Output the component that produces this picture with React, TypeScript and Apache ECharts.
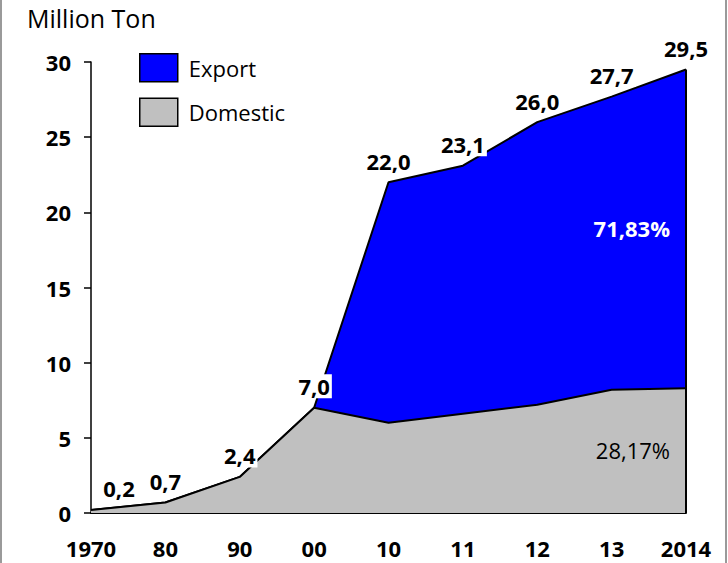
import React, { useEffect, useRef } from "react";
import * as echarts from "echarts";

const categories = ["1970", "80", "90", "00", "10", "11", "12", "13", "2014"];
const domestic = [0.2, 0.7, 2.4, 7.0, 6.0, 6.6, 7.2, 8.2, 8.3];
const exportVals = [0, 0, 0, 0, 16.0, 16.5, 18.8, 19.5, 21.2];
const totals = [0.2, 0.7, 2.4, 7.0, 22.0, 23.1, 26.0, 27.7, 29.5];
const totalLabels = ["0,2", "0,7", "2,4", "7,0", "22,0", "23,1", "26,0", "27,7", "29,5"];
const yTicks = [0, 5, 10, 15, 20, 25, 30];
const exportShare = "71,83%";
const domesticShare = "28,17%";

const FONT = "'Open Sans', 'Noto Sans', sans-serif";

export default function App() {
  const ref = useRef<HTMLDivElement>(null);
  useEffect(() => {
    if (!ref.current) return;
    const chart = echarts.init(ref.current, null, { renderer: "svg" });
    chart.setOption({
      animation: false,
      backgroundColor: "#fff",
      textStyle: { fontFamily: FONT },
      grid: { left: 91, right: 42, top: 62, bottom: 50 },
      legend: {
        data: ["Export", "Domestic"],
        orient: "vertical",
        left: 139,
        top: 53,
        padding: 0,
        icon: "rect",
        itemWidth: 38,
        itemHeight: 28,
        itemGap: 15,
        itemStyle: { borderColor: "#000", borderWidth: 1.5 },
        textStyle: { fontSize: 22, lineHeight: 26, color: "#000", fontFamily: FONT, padding: [0, 0, 0, 6] },
      },
      xAxis: {
        type: "category",
        data: categories,
        boundaryGap: false,
        axisLine: { lineStyle: { color: "#000", width: 2 } },
        axisTick: { show: false },
        axisLabel: {
          fontSize: 22,
          lineHeight: 22,
          fontWeight: "bold",
          color: "#000",
          margin: 24,
          fontFamily: FONT,
        },
        splitLine: { show: false },
      },
      yAxis: {
        type: "value",
        min: yTicks[0],
        max: yTicks[yTicks.length - 1],
        interval: 5,
        axisLine: { show: true, lineStyle: { color: "#000", width: 1.5 } },
        axisTick: { show: true, inside: false, length: 7, lineStyle: { color: "#000", width: 1.5 } },
        axisLabel: { fontSize: 22, fontWeight: "bold", color: "#000", margin: 20, fontFamily: FONT },
        splitLine: { show: false },
      },
      series: [
        {
          name: "Domestic",
          type: "line",
          stack: "total",
          data: domestic,
          symbol: "none",
          itemStyle: { color: "#C0C0C0", borderColor: "#000", borderWidth: 1.5 },
          lineStyle: { color: "#000", width: 2 },
          areaStyle: { color: "#C0C0C0", opacity: 1 },
          z: 2,
        },
        {
          name: "Export",
          type: "line",
          stack: "total",
          data: exportVals,
          symbol: "none",
          itemStyle: { color: "#0000FF", borderColor: "#000", borderWidth: 1.5 },
          lineStyle: { color: "#000", width: 2 },
          areaStyle: { color: "#0000FF", opacity: 1 },
          z: 1,
          markLine: {
            silent: true,
            symbol: "none",
            label: { show: false },
            lineStyle: { color: "#000", width: 2, type: "solid" },
            data: [[{ coord: ["2014", 0] }, { coord: ["2014", totals[totals.length - 1]] }]],
          },
        },
        {
          name: "Total",
          type: "line",
          data: totals.map((v, i) => ({
            value: v,
            label: i === 0 ? { offset: [28, 0] } : {},
          })),
          symbol: "circle",
          symbolSize: 1,
          itemStyle: { color: "rgba(0,0,0,0)" },
          lineStyle: { opacity: 0 },
          z: 10,
          label: {
            show: true,
            position: "top",
            distance: 9,
            fontSize: 22,
            lineHeight: 24,
            fontWeight: "bold",
            color: "#000",
            fontFamily: FONT,
            backgroundColor: "#fff",
            padding: [0, 2, 0, 2],
            formatter: (p: any) => totalLabels[p.dataIndex],
          },
        },
      ],
      graphic: [
        {
          type: "text",
          left: 27,
          top: 5,
          style: { text: "Million Ton", fontSize: 25, lineHeight: 26, fill: "#000", fontFamily: FONT },
        },
        {
          type: "text",
          x: 670,
          y: 228,
          z: 20,
          style: {
            text: exportShare,
            fontSize: 22,
            fontWeight: "bold",
            fill: "#fff",
            fontFamily: FONT,
            align: "right",
            verticalAlign: "middle",
          },
        },
        {
          type: "text",
          x: 670,
          y: 450,
          z: 20,
          style: {
            text: domesticShare,
            fontSize: 22,
            fill: "#000",
            fontFamily: FONT,
            align: "right",
            verticalAlign: "middle",
          },
        },
        {
          type: "line",
          shape: { x1: 1, y1: 0, x2: 1, y2: 563 },
          style: { stroke: "#9a9a9a", lineWidth: 2 },
        },
        {
          type: "line",
          shape: { x1: 726, y1: 0, x2: 726, y2: 563 },
          style: { stroke: "#9a9a9a", lineWidth: 2 },
        },
      ],
    });
    return () => chart.dispose();
  }, []);
  return (
    <div
      ref={ref}
      style={{ position: "fixed", left: 0, top: 0, width: 728, height: 563 }}
    />
  );
}
